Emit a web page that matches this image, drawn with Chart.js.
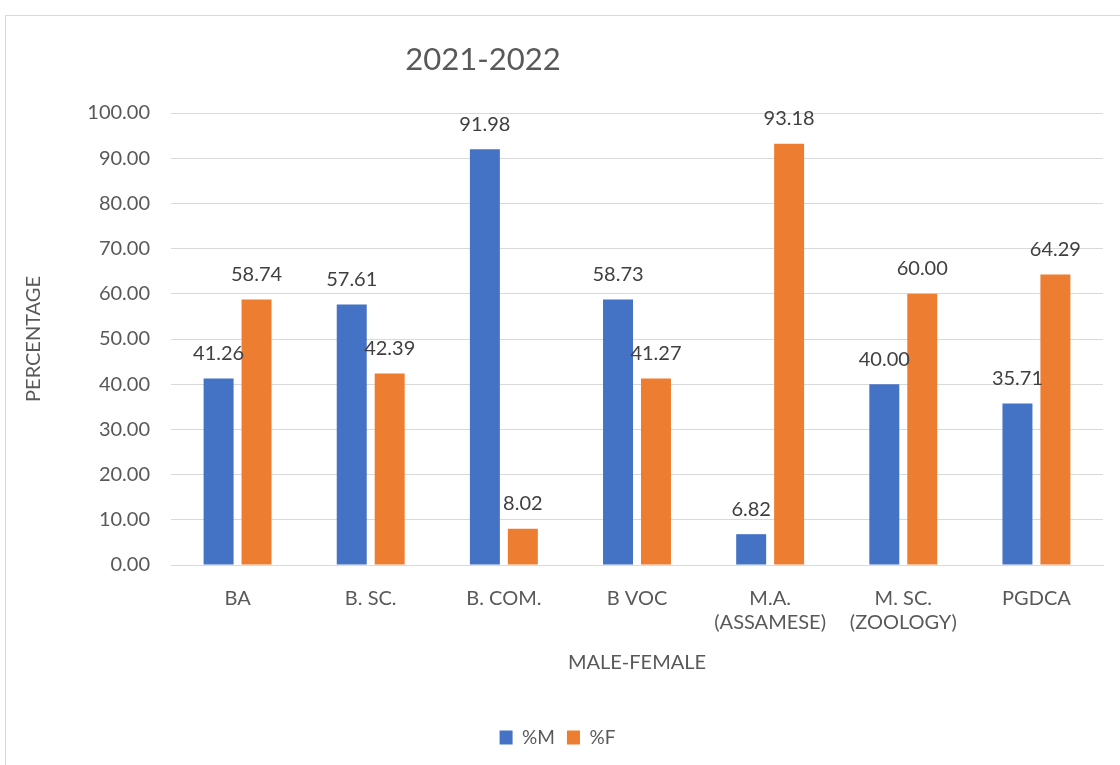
<!DOCTYPE html>
<html>
<head>
<meta charset="utf-8">
<script src="https://cdn.jsdelivr.net/npm/chart.js@4"></script>
<style>
  html, body { margin: 0; padding: 0; background: #fff; }
  #frame { position: absolute; left: 5px; top: 15px; width: 1130px; height: 770px; border: 1px solid #d9d9d9; }
  #wrap { position: absolute; left: 0; top: 0; width: 1120px; height: 765px; }
</style>
</head>
<body>
<div id="frame"></div>
<div id="wrap"><canvas id="myBarChart"></canvas></div>
<script>
  var categories = ['BA', 'B. SC.', 'B. COM.', 'B VOC', ['M.A.', '(ASSAMESE)'], ['M. SC.', '(ZOOLOGY)'], 'PGDCA'];
  var maleValues = [41.26, 57.61, 91.98, 58.73, 6.82, 40.00, 35.71];
  var femaleValues = [58.74, 42.39, 8.02, 41.27, 93.18, 60.00, 64.29];
  var yTicks = [0, 10, 20, 30, 40, 50, 60, 70, 80, 90, 100];

  var fontName = 'Lato, "Noto Sans", sans-serif';
  var grey = '#595959';

  // title text and labels above each bar
  var extras = {
      id: 'extras',
      afterDatasetsDraw: function (chart) {
          var ctx = chart.ctx;
          ctx.save();
          ctx.font = '20px ' + fontName;
          ctx.fillStyle = '#404040';
          ctx.textAlign = 'center';
          ctx.textBaseline = 'middle';
          chart.data.datasets.forEach(function (ds, i) {
              chart.getDatasetMeta(i).data.forEach(function (bar, j) {
                  ctx.fillText(ds.data[j].toFixed(2), bar.x, bar.y - 25);
              });
          });
          ctx.font = '31px ' + fontName;
          ctx.fillStyle = grey;
          ctx.fillText('2021-2022', 483, 60);
          ctx.restore();
      }
  };

  var ctxBar = document.getElementById('myBarChart').getContext('2d');
  var barChart = new Chart(ctxBar, {
      type: 'bar',
      data: {
          labels: categories,
          datasets: [{
              label: '%M',
              data: maleValues,
              backgroundColor: '#4472C4',
              borderWidth: 0
          }, {
              label: '%F',
              data: femaleValues,
              backgroundColor: '#ED7D31',
              borderWidth: 0
          }]
      },
      options: {
          responsive: true,
          maintainAspectRatio: false,
          animation: false,
          categoryPercentage: 0.57,
          barPercentage: 0.79,
          layout: { padding: { left: 12, right: 17, top: 113, bottom: 8 } },
          plugins: {
              tooltip: { enabled: false },
              legend: {
                  position: 'bottom',
                  labels: {
                      font: { family: fontName, size: 19 },
                      color: grey,
                      boxWidth: 13,
                      boxHeight: 14,
                      padding: 12
                  }
              }
          },
          scales: {
              x: {
                  grid: { display: false },
                  border: { display: true, color: '#d9d9d9', width: 1 },
                  ticks: { font: { family: fontName, size: 20 }, color: grey, padding: 14, maxRotation: 0 },
                  title: { display: true, text: 'MALE-FEMALE', font: { family: fontName, size: 20 }, color: grey, padding: { top: 4, bottom: 41 } },
                  afterFit: function (scale) { scale.height = 151; }
              },
              y: {
                  min: 0,
                  max: 100,
                  afterBuildTicks: function (scale) {
                      scale.ticks = yTicks.map(function (v) { return { value: v }; });
                  },
                  grid: { color: '#d9d9d9', drawTicks: false },
                  border: { display: false },
                  ticks: {
                      font: { family: fontName, size: 20 },
                      color: grey,
                      padding: 21,
                      callback: function (v) { return Number(v).toFixed(2); }
                  },
                  title: { display: true, text: 'PERCENTAGE', font: { family: fontName, size: 20 }, color: grey, padding: { top: 10, bottom: 0 } },
                  afterFit: function (scale) { scale.width = 159; }
              }
          }
      },
      plugins: [extras]
  });
</script>
</body>
</html>
